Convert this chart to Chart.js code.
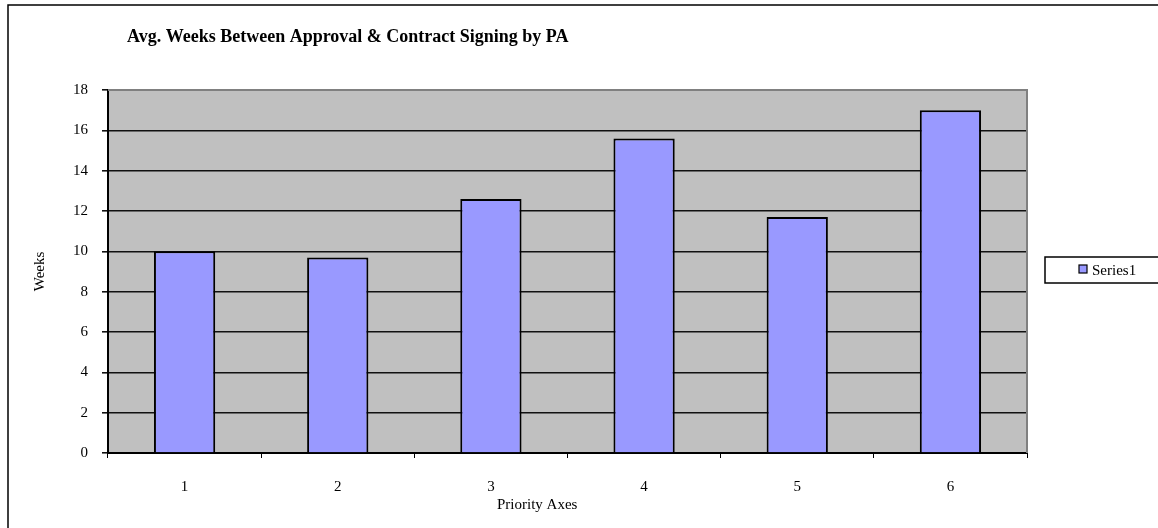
<!DOCTYPE html>
<html>
<head>
<meta charset="utf-8">
<script src="https://cdn.jsdelivr.net/npm/chart.js@4"></script>
<style>
  body { margin: 0; background: #fff; }
  canvas { display: block; }
</style>
</head>
<body>
<canvas id="weeksChart" width="1158" height="528"></canvas>
<script>
  const categories = ["1", "2", "3", "4", "5", "6"];
  const weeks = [10, 9.7, 12.6, 15.6, 11.7, 17];
  const seriesName = "Series1";
  const chartTitle = "Avg. Weeks Between Approval & Contract Signing by PA";
  const xTitle = "Priority Axes";

  const serif = "'Liberation Serif', 'Times New Roman', serif";

  // frame, grey plot area, title, x title and the boxed legend (Excel look)
  const excelLook = {
    id: 'excelLook',
    beforeDraw(chart) {
      const { ctx, chartArea: a } = chart;
      ctx.save();
      ctx.fillStyle = '#fff';
      ctx.fillRect(0, 0, chart.width, chart.height);
      ctx.fillStyle = '#C0C0C0';
      ctx.fillRect(a.left, a.top, a.right - a.left, a.bottom - a.top);
      ctx.restore();
    },
    afterDraw(chart) {
      const { ctx, chartArea: a } = chart;
      ctx.save();
      // right / top edge of plot area
      ctx.strokeStyle = '#808080';
      ctx.lineWidth = 2;
      ctx.beginPath();
      ctx.moveTo(a.left, a.top);
      ctx.lineTo(a.right, a.top);
      ctx.lineTo(a.right, a.bottom);
      ctx.stroke();
      // chart frame
      ctx.strokeStyle = '#000';
      ctx.lineWidth = 1.5;
      ctx.strokeRect(8, 5, 1300, 700);
      // title
      ctx.fillStyle = '#000';
      ctx.font = 'bold 18px ' + serif;
      ctx.textBaseline = 'alphabetic';
      ctx.fillText(chartTitle, 127, 42);
      // x axis title
      ctx.font = '15px ' + serif;
      ctx.fillText(xTitle, 497, 509);
      // legend
      const ds = chart.data.datasets[0];
      ctx.fillStyle = '#fff';
      ctx.fillRect(1045, 257, 130, 26);
      ctx.strokeRect(1045, 257, 130, 26);
      ctx.fillStyle = ds.backgroundColor;
      ctx.fillRect(1079, 265, 8, 8);
      ctx.lineWidth = 1.2;
      ctx.strokeRect(1079, 265, 8, 8);
      ctx.fillStyle = '#000';
      ctx.font = '15px ' + serif;
      ctx.fillText(ds.label, 1092, 275);
      ctx.restore();
    }
  };

  new Chart(document.getElementById("weeksChart"), {
    type: 'bar',
    data: {
      labels: categories,
      datasets: [{
        label: seriesName,
        data: weeks,
        backgroundColor: "#9999FF",
        borderColor: "#000",
        borderWidth: 2,
        barPercentage: 0.4,
        categoryPercentage: 1
      }]
    },
    options: {
      responsive: false,
      animation: false,
      layout: { padding: { top: 90, right: 131, left: 0, bottom: 0 } },
      scales: {
        y: {
          min: 0,
          max: 18,
          afterFit(scale) { scale.width = 108; },
          ticks: { stepSize: 2, color: "#000", padding: 14, font: { family: serif, size: 15 } },
          grid: { color: "#111", lineWidth: 1.6, tickLength: 6 },
          border: { color: "#000", width: 2 },
          title: { display: true, text: "Weeks", color: "#000", padding: { top: 31, bottom: 0 }, font: { family: serif, size: 15 } }
        },
        x: {
          afterFit(scale) { scale.height = 75; },
          ticks: { color: "#000", padding: 20, font: { family: serif, size: 15 } },
          grid: { offset: true, drawOnChartArea: false, color: "#000", tickLength: 5 },
          border: { color: "#000", width: 2 }
        }
      },
      plugins: {
        legend: { display: false },
        title: { display: false },
        tooltip: { enabled: false }
      }
    },
    plugins: [excelLook]
  });
</script>
</body>
</html>
